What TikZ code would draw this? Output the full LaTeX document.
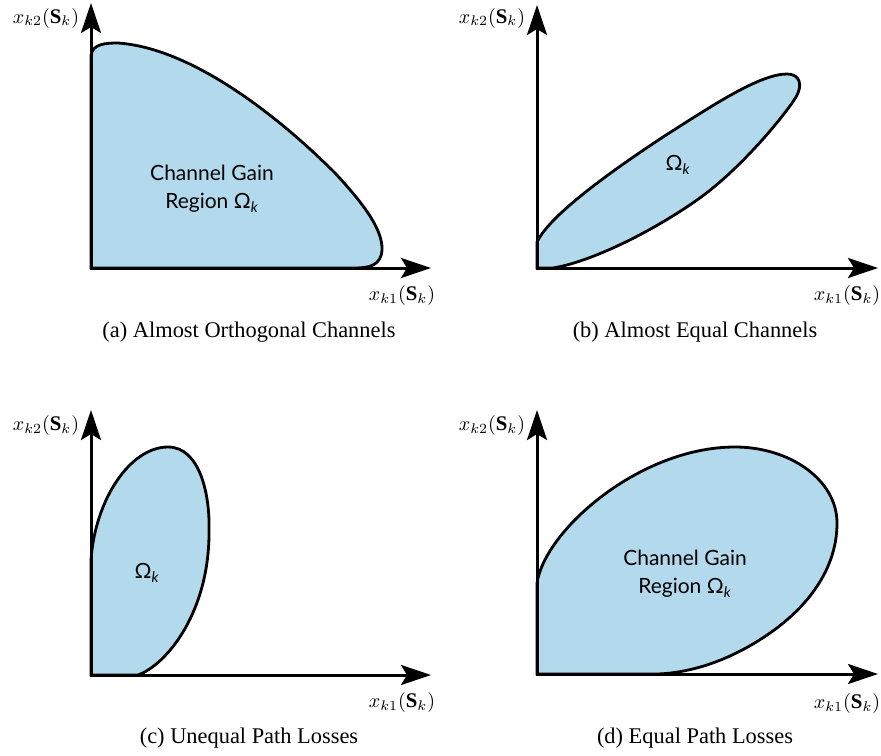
\documentclass[tikz,border=0pt]{standalone}
\usepackage{fontspec}
\setmainfont{Liberation Serif}
\setsansfont{Lato}
\usetikzlibrary{arrows.meta}
\definecolor{gainfill}{HTML}{B3D9ED}

\begin{document}
\begin{tikzpicture}[x=0.5pt, y=-0.5pt,
  axis/.style={{Stealth[length=15pt, width=10pt, inset=3pt]}-{Stealth[length=15pt, width=10pt, inset=3pt]},
               line width=1.5pt, line join=miter},
  region/.style={fill=gainfill, draw=black, line width=1.4pt},
  axlabel/.style={font=\fontsize{10.4}{12}\selectfont},
  caption/.style={font=\fontsize{11.2}{13}\selectfont},
  inlabel/.style={font=\sffamily\fontsize{10.5}{14}\selectfont, align=center}
]
  \useasboundingbox (0,0) rectangle (881,755);

  % (a) almost orthogonal channels
  \coordinate (ao) at (91,268);
  \coordinate (ay) at (91,3);
  \coordinate (ax) at (431,268);
  \filldraw[region] (91,55) .. controls (93,44) and (105,43) .. (118,43)
    .. controls (190,48) and (275,113) .. (335,173)
    .. controls (360,200) and (383,228) .. (382,250)
    .. controls (381,265) and (370,268) .. (355,268) -- (ao) -- cycle;
  \draw[axis] (ay) -- (ao) -- (ax);
  \node[inlabel] (again) at (212,189) {Channel Gain\\Region Ω\textsubscript{\itshape k}};
  \node[axlabel] (ay-lab) at (46,18) {$x_{k2}(\mathbf{S}_k)$};
  \node[axlabel] (ax-lab) at (402,295) {$x_{k1}(\mathbf{S}_k)$};
  \node[caption] (acap) at (249,332) {(a) Almost Orthogonal Channels};

  % (b) almost equal channels
  \coordinate (bo) at (537,268);
  \coordinate (by) at (537,5);
  \coordinate (bx) at (878,268);
  \filldraw[region] (537,242) .. controls (550,215) and (610,172) .. (663,137)
    .. controls (713,105) and (760,74) .. (787,74)
    .. controls (800,74) and (803,85) .. (796,97)
    .. controls (785,115) and (740,170) .. (697,200)
    .. controls (650,233) and (590,262) .. (553,268) -- (bo) -- cycle;
  \draw[axis] (by) -- (bo) -- (bx);
  \node[inlabel] (bgain) at (678,165) {Ω\textsubscript{\itshape k}};
  \node[axlabel] (by-lab) at (492,18) {$x_{k2}(\mathbf{S}_k)$};
  \node[axlabel] (bx-lab) at (847,295) {$x_{k1}(\mathbf{S}_k)$};
  \node[caption] (bcap) at (695,332) {(b) Almost Equal Channels};

  % (c) unequal path losses
  \coordinate (co) at (91,675);
  \coordinate (cy) at (91,410);
  \coordinate (cx) at (431,675);
  \filldraw[region] (91,560) .. controls (95,500) and (130,447) .. (168,447)
    .. controls (200,447) and (210,495) .. (209,530)
    .. controls (210,610) and (168,664) .. (138,675) -- (co) -- cycle;
  \draw[axis] (cy) -- (co) -- (cx);
  \node[inlabel] (cgain) at (147,573) {Ω\textsubscript{\itshape k}};
  \node[axlabel] (cy-lab) at (46,425) {$x_{k2}(\mathbf{S}_k)$};
  \node[axlabel] (cx-lab) at (402,702) {$x_{k1}(\mathbf{S}_k)$};
  \node[caption] (ccap) at (249,738) {(c) Unequal Path Losses};

  % (d) equal path losses
  \coordinate (do) at (537,674);
  \coordinate (dy) at (537,410);
  \coordinate (dx) at (878,674);
  \filldraw[region] (537,583) .. controls (545,530) and (640,447) .. (735,447)
    .. controls (790,447) and (837,480) .. (837,523)
    .. controls (837,575) and (800,612) .. (770,633)
    .. controls (730,661) and (690,673) .. (657,674) -- (do) -- cycle;
  \draw[axis] (dy) -- (do) -- (dx);
  \node[inlabel] (dgain) at (685,574) {Channel Gain\\Region Ω\textsubscript{\itshape k}};
  \node[axlabel] (dy-lab) at (492,425) {$x_{k2}(\mathbf{S}_k)$};
  \node[axlabel] (dx-lab) at (847,703) {$x_{k1}(\mathbf{S}_k)$};
  \node[caption] (dcap) at (695,738) {(d) Equal Path Losses};
\end{tikzpicture}
\end{document}
